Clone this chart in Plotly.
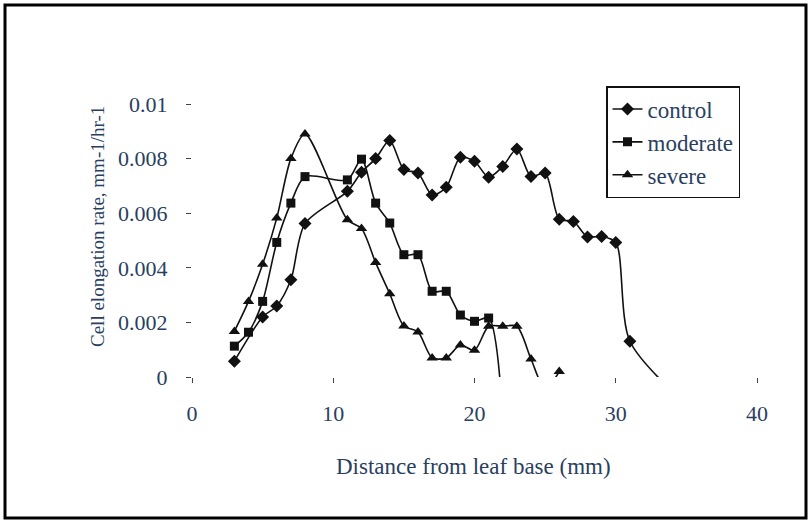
import plotly.graph_objects as go

# Distance from leaf base (mm) and cell elongation rate (mm-1/hr-1) per treatment
x_control = [3, 5, 6, 7, 8, 11, 12, 13, 14, 15, 16, 17, 18, 19, 20, 21, 22, 23,
             24, 25, 26, 27, 28, 29, 30, 31, 35]
control = [0.00058, 0.0022, 0.0026, 0.00356, 0.00562, 0.0068, 0.0075, 0.0080,
           0.00866, 0.0076, 0.00747, 0.00667, 0.00695, 0.00805, 0.0079, 0.00732,
           0.00771, 0.00835, 0.00734, 0.00747, 0.00578, 0.0057, 0.00513, 0.00515,
           0.00493, 0.00131, -0.0010]

x_moderate = [3, 4, 5, 6, 7, 8, 11, 12, 13, 14, 15, 16, 17, 18, 19, 20, 21, 22]
moderate = [0.00113, 0.00164, 0.00277, 0.00493, 0.00637, 0.00734, 0.00722,
            0.00798, 0.00637, 0.00564, 0.00448, 0.00448, 0.00314, 0.00314,
            0.00227, 0.00204, 0.00216, -0.0015]

x_severe = [3, 4, 5, 6, 7, 8, 11, 12, 13, 14, 15, 16, 17, 18, 19, 20, 21, 22,
            23, 24, 25, 26]
severe = [0.00167, 0.00277, 0.00413, 0.00582, 0.0080, 0.0089, 0.00576, 0.00544,
          0.00419, 0.00305, 0.00187, 0.00165, 0.0007, 0.0007, 0.00117, 0.00098,
          0.00186, 0.00186, 0.00186, 0.00066, -0.00044, 0.0002]

x_ticks = [0, 10, 20, 30, 40]
y_ticks = [0, 0.002, 0.004, 0.006, 0.008, 0.01]

FONT = "Liberation Serif"

W, H = 811, 523
ML, MR, MT, MB = 192, 54, 104, 146
PW, PH = W - ML - MR, H - MT - MB


def px_x(p):
    return (p - ML) / PW


def px_y(p):
    return (H - MB - p) / PH


series = [
    ("control", x_control, control, "diamond", 10),
    ("moderate", x_moderate, moderate, "square", 9),
    ("severe", x_severe, severe, "triangle-up", 10),
]

fig = go.Figure()
for name, xs, ys, sym, size in series:
    fig.add_trace(go.Scatter(
        x=xs, y=ys, name=name, mode="lines+markers",
        line=dict(color="#111111", width=1.6, shape="spline", smoothing=0.8),
        marker=dict(symbol=sym, size=size, color="#111111"),
    ))

fig.update_layout(
    width=W, height=H,
    margin=dict(l=ML, r=MR, t=MT, b=MB, pad=0),
    paper_bgcolor="white", plot_bgcolor="white",
    font=dict(family=FONT, size=22),
    showlegend=True,
    legend=dict(
        x=px_x(606), y=px_y(86), xanchor="left", yanchor="top",
        bgcolor="white", bordercolor="#111111", borderwidth=1.5,
        font=dict(family=FONT, size=23),
    ),
    xaxis=dict(
        range=[x_ticks[0], x_ticks[-1]], tick0=x_ticks[0],
        dtick=x_ticks[1] - x_ticks[0],
        showline=True, ticks="outside", ticklen=5,
        ticklabelstandoff=12,
        tickfont=dict(family=FONT, size=22),
    ),
    yaxis=dict(
        range=[y_ticks[0], y_ticks[-1]], tick0=y_ticks[0],
        dtick=y_ticks[1] - y_ticks[0],
        showline=True, ticks="outside", ticklen=5,
        ticklabelstandoff=14,
        tickfont=dict(family=FONT, size=22),
    ),
    annotations=[
        dict(text="Distance from leaf base (mm)", xref="paper", yref="paper",
             x=px_x(473), y=px_y(466), xanchor="center", yanchor="middle",
             showarrow=False, font=dict(family=FONT, size=23)),
        dict(text="Cell elongation rate, mm-1/hr-1", xref="paper", yref="paper",
             x=px_x(97), y=px_y(227), xanchor="center", yanchor="middle",
             showarrow=False, textangle=-90,
             font=dict(family=FONT, size=19)),
    ],
    shapes=[
        dict(type="rect", xref="paper", yref="paper",
             x0=px_x(5), x1=px_x(806), y0=px_y(518), y1=px_y(5),
             line=dict(color="black", width=3), fillcolor="rgba(0,0,0,0)",
             layer="below"),
    ],
)

fig.write_html("out.html")
